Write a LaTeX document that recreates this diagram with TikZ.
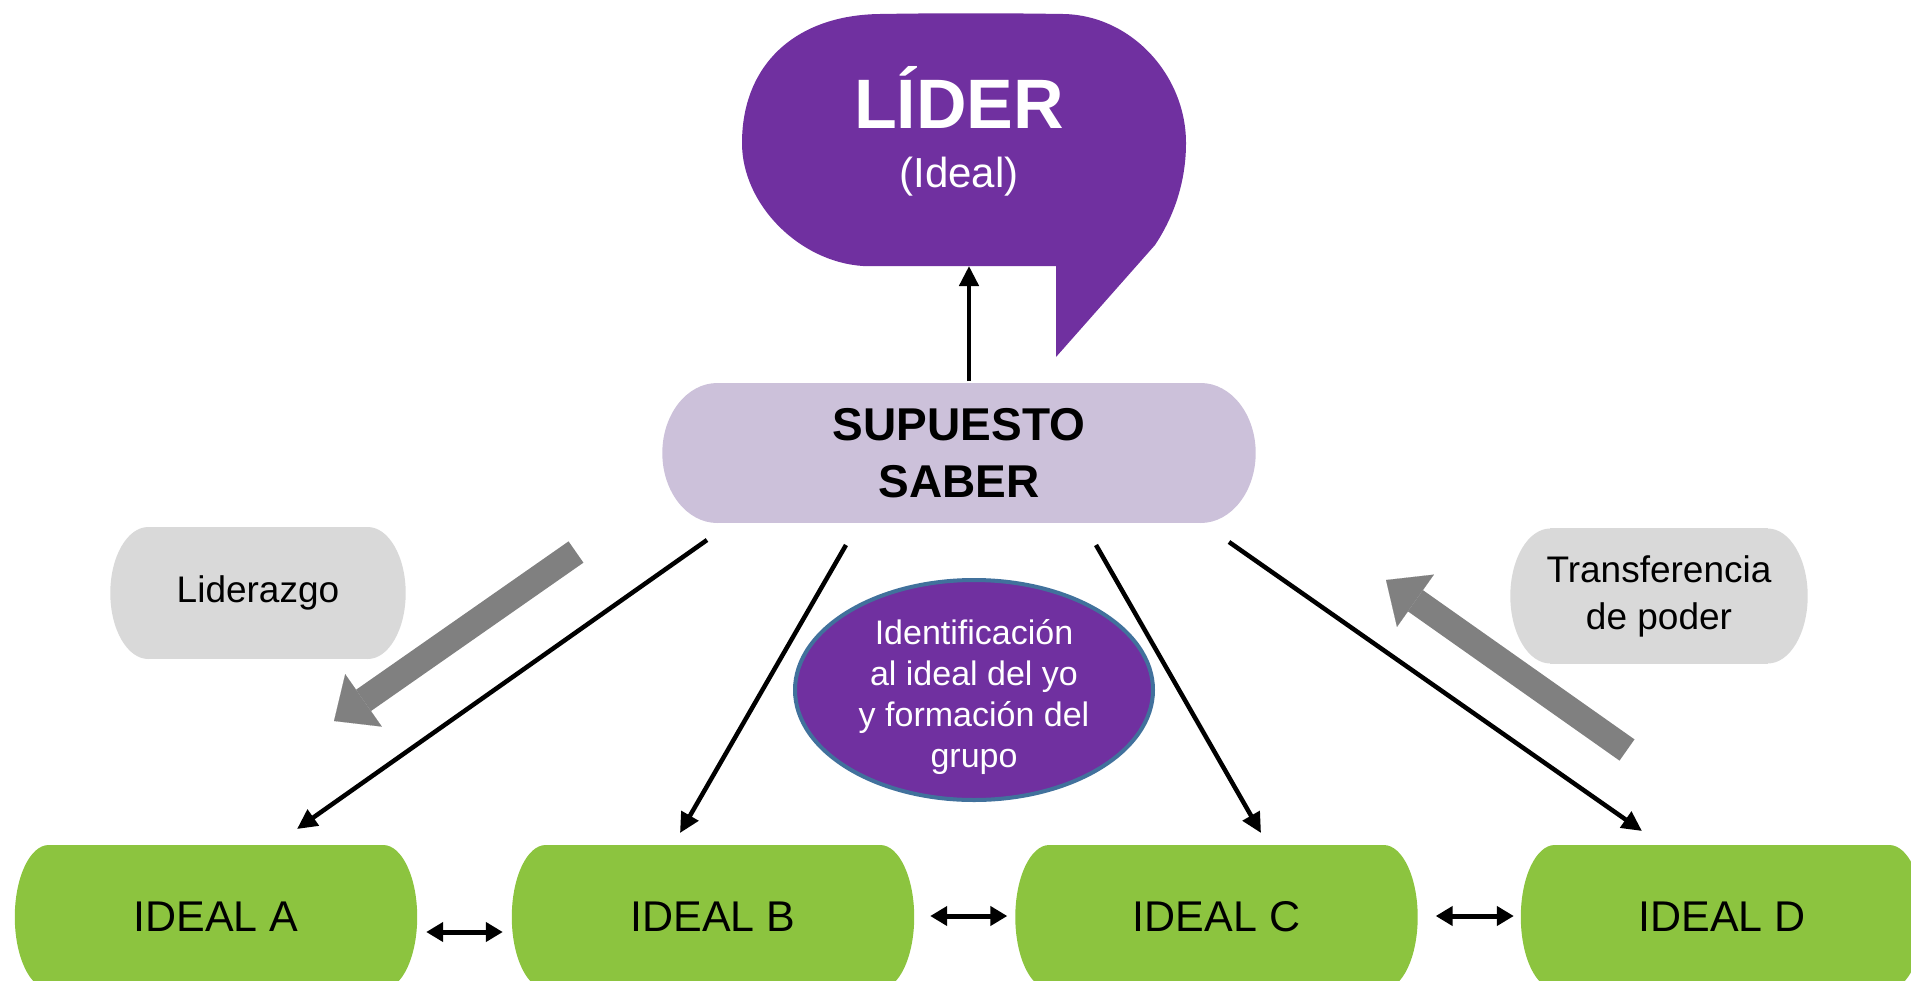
\documentclass[tikz,border=0pt]{standalone}
\usepackage{fontspec}
\setmainfont{Liberation Sans}
\usetikzlibrary{arrows.meta,shapes.geometric,calc,backgrounds}
\definecolor{lidpurple}{HTML}{7030A0}
\definecolor{supcol}{HTML}{CCC1DA}
\definecolor{greycol}{HTML}{D9D9D9}
\definecolor{garrow}{HTML}{808080}
\definecolor{idealgreen}{HTML}{8CC43F}
\definecolor{ellborder}{HTML}{41719C}
\newcommand\stadiumfill[4]{%
  \fill[#1] ($(#2.north west)+(#3,0)$) rectangle ($(#2.south east)+(-#3,0)$);
  \fill[#1] ($(#2.west)+(#3,0)$) ellipse [x radius=#3, y radius=#4];
  \fill[#1] ($(#2.east)+(-#3,0)$) ellipse [x radius=#3, y radius=#4];
}
\tikzset{
  pillnode/.style={rectangle, inner sep=0pt, align=center},
  idealnode/.style={pillnode, minimum width=402pt, minimum height=144pt, font=\fontsize{43}{43}\selectfont},
  blkarrow/.style={draw=black, line width=4.5pt, -{Triangle[length=20pt,width=19pt]}},
  dblarrow/.style={draw=black, line width=5pt, {Triangle[length=17pt,width=19pt]}-{Triangle[length=17pt,width=19pt]}},
  bigarrow/.style={draw=garrow, line width=26pt, -{Triangle[length=36pt,width=64pt,line width=0.1pt]}},
}
\begin{document}
\begin{tikzpicture}[x=1pt,y=-1pt]
\path[use as bounding box] (0,0) rectangle (1911,980);
% speech bubble
\fill[lidpurple] (863,266) -- (1056,266) -- (1056,357) -- (1155,245)
  .. controls (1175,215) and (1186,180) .. (1186,143)
  .. controls (1186,75) and (1131,15) .. (1063,14)
  .. controls (1000,13) and (940,13) .. (880,14)
  .. controls (795,15) and (742,65) .. (742,143)
  .. controls (742,205) and (800,262) .. (863,266) -- cycle;
\node[anchor=base, text=white, font=\fontsize{70}{70}\selectfont\bfseries] (lider) at (959,128) {LÍDER};
\node[anchor=base, text=white, font=\fontsize{42}{42}\selectfont] (liderideal) at (959,187) {(Ideal)};
\coordinate (liderbase) at (969,266);
% nodes
\node[pillnode, minimum width=593pt, minimum height=140pt, font=\fontsize{46}{57}\selectfont\bfseries] (supuesto) at (959,453) {SUPUESTO\\SABER};
\node[pillnode, minimum width=295pt, minimum height=132pt, font=\fontsize{37}{47}\selectfont] (lidz) at (258,593) {Liderazgo};
\node[pillnode, minimum width=297pt, minimum height=135pt, font=\fontsize{37}{47}\selectfont] (transf) at (1659,596) {Transferencia\\de poder};
\node[idealnode] (idealA) at (216,917) {IDEAL A};
\node[idealnode] (idealB) at (713,917) {IDEAL B};
\node[idealnode] (idealC) at (1216.5,917) {IDEAL C};
\node[idealnode] (idealD) at (1722,917) {IDEAL D};
\node[ellipse, fill=lidpurple, draw=ellborder, line width=4pt, minimum width=358pt, minimum height=220pt, inner sep=0pt] (ident) at (974,690) {};
\node[text=white, align=center, inner sep=0pt, font=\fontsize{34}{41}\selectfont] (identtxt) at ($(ident.center)+(0,7)$) {Identificación\\al ideal del yo\\y formación del\\grupo};
\begin{scope}[on background layer]
  \stadiumfill{supcol}{supuesto}{55}{70}
  \stadiumfill{greycol}{lidz}{38}{66}
  \stadiumfill{greycol}{transf}{40}{67.5}
  \stadiumfill{idealgreen}{idealA}{34}{72}
  \stadiumfill{idealgreen}{idealB}{34}{72}
  \stadiumfill{idealgreen}{idealC}{34}{72}
  \stadiumfill{idealgreen}{idealD}{34}{72}
\end{scope}
% connector end points
\coordinate (supTop) at (969,381);
\coordinate (sA) at (707,540); \coordinate (tA) at (297,829);
\coordinate (sB) at (846,545); \coordinate (tB) at (680,833);
\coordinate (sC) at (1096,545); \coordinate (tC) at (1261,833);
\coordinate (sD) at (1229,542); \coordinate (tD) at (1642,831);
\coordinate (gLtail) at (576,552); \coordinate (gLtip) at (334,721);
\coordinate (gTtail) at (1627,750); \coordinate (gTtip) at (1386,580);
% connectors
\draw[blkarrow] (supTop) -- (liderbase);
\draw[blkarrow] (sA) -- (tA);
\draw[blkarrow] (sB) -- (tB);
\draw[blkarrow] (sC) -- (tC);
\draw[blkarrow] (sD) -- (tD);
\draw[bigarrow] (gLtail) -- (gLtip);
\draw[bigarrow] (gTtail) -- (gTtip);
\draw[dblarrow] ($(idealA.east)+(9,15)$) -- ($(idealB.west)+(-9,15)$);
\draw[dblarrow] ($(idealB.east)+(16,-1)$) -- ($(idealC.west)+(-8,-1)$);
\draw[dblarrow] ($(idealC.east)+(18,-1)$) -- ($(idealD.west)+(-7,-1)$);
\end{tikzpicture}
\end{document}
